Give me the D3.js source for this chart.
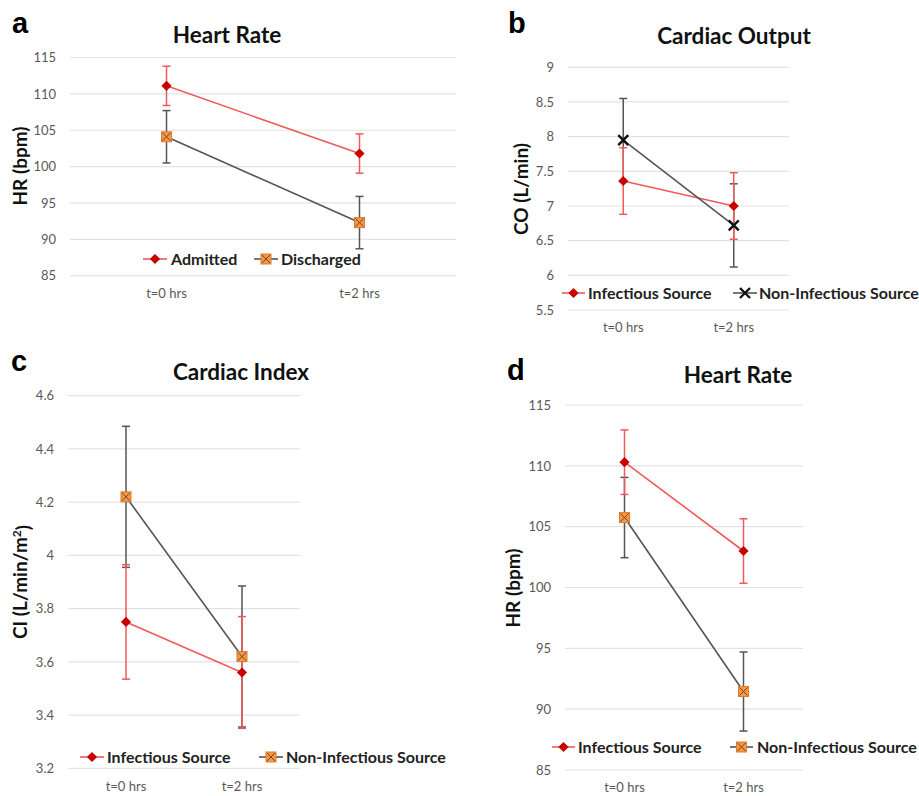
<!DOCTYPE html>
<html>
<head>
<meta charset="utf-8">
<script src="https://cdn.jsdelivr.net/npm/d3@7"></script>
<style>
  body { margin: 0; background: #fff; }
  text { font-family: Lato, "Open Sans", sans-serif; }
</style>
</head>
<body>
<script>
// shared categories
var timepoints = ["t=0 hrs", "t=2 hrs"];

// tick values
var hrTicks = [85, 90, 95, 100, 105, 110, 115];
var coTicks = [5.5, 6, 6.5, 7, 7.5, 8, 8.5, 9];
var ciTicks = [3.2, 3.4, 3.6, 3.8, 4, 4.2, 4.4, 4.6];

// a - heart rate, admitted vs discharged
var admittedMean = [111.1, 101.8],
    admittedErr = [2.7, 2.7],
    dischargedMean = [104.1, 92.3],
    dischargedErr = [3.6, 3.6];

// b - cardiac output
var coInfMean = [7.36, 7.0],
    coInfErr = [0.48, 0.48],
    coNonMean = [7.95, 6.72],
    coNonErr = [0.6, 0.6];

// c - cardiac index
var ciInfMean = [3.75, 3.56],
    ciInfErr = [0.215, 0.21],
    ciNonMean = [4.22, 3.62],
    ciNonErr = [0.265, 0.265];

// d - heart rate by source
var hrInfMean = [110.3, 103.0],
    hrInfErr = [2.65, 2.65],
    hrNonMean = [105.75, 91.45],
    hrNonErr = [3.3, 3.25];

var RED = "#f25a5a", RED_DARK = "#c80000", GRAY = "#555555";

var svg = d3.select("body").append("svg")
    .attr("width", 919)
    .attr("height", 796);

var panels = [
  {letter: "a", lx: 12, ly: 33, title: "Heart Rate", tx: 227, ty: 43,
   ylabel: "HR (bpm)", ylx: 20, yly: 166,
   left: 70, right: 456, top: 57.5, bottom: 275.7, ticks: hrTicks,
   legendY: 259,
   series: [
     {name: "Admitted", mean: admittedMean, err: admittedErr, color: RED, marker: "diamond", lx0: 143, lx1: 167, tx: 171},
     {name: "Discharged", mean: dischargedMean, err: dischargedErr, color: GRAY, marker: "square", lx0: 254, lx1: 278, tx: 281}
   ]},
  {letter: "b", lx: 508, ly: 33, title: "Cardiac Output", tx: 734, ty: 44,
   ylabel: "CO (L/min)", ylx: 521, yly: 189,
   left: 568, right: 789, top: 67.3, bottom: 310, ticks: coTicks,
   legendY: 293,
   series: [
     {name: "Infectious Source", mean: coInfMean, err: coInfErr, color: RED, marker: "diamond", lx0: 562, lx1: 585, tx: 588},
     {name: "Non-Infectious Source", mean: coNonMean, err: coNonErr, color: GRAY, marker: "cross", lx0: 733, lx1: 757, tx: 759}
   ]},
  {letter: "c", lx: 11, ly: 371, title: "Cardiac Index", tx: 241, ty: 380,
   ylabel: "CI (L/min/m", sup: "2", ylx: 20, yly: 582,
   left: 68, right: 300, top: 395.7, bottom: 768.3, ticks: ciTicks,
   legendY: 757,
   series: [
     {name: "Infectious Source", mean: ciInfMean, err: ciInfErr, color: RED, marker: "diamond", lx0: 80, lx1: 104, tx: 107},
     {name: "Non-Infectious Source", mean: ciNonMean, err: ciNonErr, color: GRAY, marker: "square", lx0: 259, lx1: 283, tx: 286}
   ]},
  {letter: "d", lx: 507, ly: 380, title: "Heart Rate", tx: 738, ty: 383,
   ylabel: "HR (bpm)", ylx: 513, yly: 588,
   left: 565, right: 803, top: 405, bottom: 770, ticks: hrTicks,
   legendY: 747,
   series: [
     {name: "Infectious Source", mean: hrInfMean, err: hrInfErr, color: RED, marker: "diamond", lx0: 552, lx1: 575, tx: 578},
     {name: "Non-Infectious Source", mean: hrNonMean, err: hrNonErr, color: GRAY, marker: "square", lx0: 730, lx1: 753, tx: 757}
   ]}
];

function drawMarker(g, type, cx, cy) {
  if (type == "diamond") {
    g.append("path")
      .attr("d", d3.symbol(d3.symbolSquare, 52)())
      .attr("transform", "translate(" + cx + "," + cy + ") rotate(45)")
      .attr("fill", RED_DARK);
  } else if (type == "square") {
    g.append("rect")
      .attr("x", cx - 5).attr("y", cy - 5)
      .attr("width", 10).attr("height", 10)
      .attr("fill", "#f79646")
      .attr("stroke", "#e07b2a")
      .attr("stroke-width", 1);
    g.append("path")
      .attr("d", "M" + (cx - 4) + "," + (cy - 4) + "L" + (cx + 4) + "," + (cy + 4) +
                 "M" + (cx - 4) + "," + (cy + 4) + "L" + (cx + 4) + "," + (cy - 4))
      .attr("stroke", "#6b4a2a")
      .attr("stroke-width", 1);
  } else {
    g.append("path")
      .attr("d", "M" + (cx - 5) + "," + (cy - 5) + "L" + (cx + 5) + "," + (cy + 5) +
                 "M" + (cx - 5) + "," + (cy + 5) + "L" + (cx + 5) + "," + (cy - 5))
      .attr("stroke", "#111")
      .attr("stroke-width", 2.4);
  }
}

panels.forEach(function(p) {
  var g = svg.append("g");
  var ticks = p.ticks;

  var x = d3.scaleBand().domain(timepoints).range([p.left, p.right]),
      y = d3.scaleLinear().domain([ticks[0], ticks[ticks.length - 1]]).range([p.bottom, p.top]);
  var cx = function(i) { return x(timepoints[i]) + x.bandwidth() / 2; };

  // gridlines
  g.selectAll(".grid")
    .data(ticks)
    .enter().append("line")
    .attr("x1", p.left).attr("x2", p.right)
    .attr("y1", function(d) { return y(d); })
    .attr("y2", function(d) { return y(d); })
    .attr("stroke", "#e3e3e3")
    .attr("stroke-width", 1.2);

  var yAxis = g.append("g")
    .attr("transform", "translate(" + p.left + ",0)")
    .call(d3.axisLeft(y).tickValues(ticks).tickSize(0).tickPadding(14)
      .tickFormat(function(d) { return String(+d.toFixed(2)); }));
  var xAxis = g.append("g")
    .attr("transform", "translate(0," + p.bottom + ")")
    .call(d3.axisBottom(x).tickSize(0).tickPadding(13));
  [yAxis, xAxis].forEach(function(ax) {
    ax.select(".domain").remove();
    ax.selectAll("text")
      .attr("fill", "#595959")
      .style("font-size", "13px")
      .style("font-family", "Lato, sans-serif");
  });

  // lines
  p.series.forEach(function(s) {
    g.append("path")
      .datum(s.mean)
      .attr("fill", "none")
      .attr("stroke", s.color)
      .attr("stroke-width", 1.6)
      .attr("d", d3.line()
        .x(function(d, i) { return cx(i); })
        .y(function(d) { return y(d); }));
  });

  // error bars
  p.series.slice().reverse().forEach(function(s) {
    var eb = g.selectAll(null).data(s.mean).enter().append("g")
      .attr("stroke", s.color)
      .attr("stroke-width", 1.5);
    eb.append("line")
      .attr("x1", function(d, i) { return cx(i); })
      .attr("x2", function(d, i) { return cx(i); })
      .attr("y1", function(d, i) { return y(d - s.err[i]); })
      .attr("y2", function(d, i) { return y(d + s.err[i]); });
    [-1, 1].forEach(function(sign) {
      eb.append("line")
        .attr("x1", function(d, i) { return cx(i) - 4; })
        .attr("x2", function(d, i) { return cx(i) + 4; })
        .attr("y1", function(d, i) { return y(d + sign * s.err[i]); })
        .attr("y2", function(d, i) { return y(d + sign * s.err[i]); });
    });
  });

  // markers
  p.series.forEach(function(s) {
    s.mean.forEach(function(m, i) { drawMarker(g, s.marker, cx(i), y(m)); });
  });

  // legend
  p.series.forEach(function(s) {
    g.append("line")
      .attr("x1", s.lx0).attr("x2", s.lx1)
      .attr("y1", p.legendY).attr("y2", p.legendY)
      .attr("stroke", s.color)
      .attr("stroke-width", 1.6);
    drawMarker(g, s.marker, (s.lx0 + s.lx1) / 2, p.legendY);
    g.append("text")
      .attr("x", s.tx).attr("y", p.legendY)
      .attr("dy", "0.36em")
      .attr("fill", "#222")
      .style("font-size", "16px")
      .style("font-weight", "bold")
      .text(s.name);
  });

  // title, letter, y label
  g.append("text")
    .attr("x", p.tx).attr("y", p.ty)
    .attr("text-anchor", "middle")
    .attr("fill", "#111")
    .style("font-size", "22.5px")
    .style("font-weight", "bold")
    .text(p.title);

  g.append("text")
    .attr("x", p.lx).attr("y", p.ly)
    .attr("fill", "#000")
    .style("font-family", "'Liberation Sans', Arial, sans-serif")
    .style("font-size", "29px")
    .style("font-weight", "bold")
    .text(p.letter);

  var yl = g.append("text")
    .attr("transform", "translate(" + p.ylx + "," + p.yly + ") rotate(-90)")
    .attr("text-anchor", "middle")
    .attr("dy", "0.35em")
    .attr("fill", "#111")
    .style("font-size", "19px")
    .style("font-weight", "bold")
    .text(p.ylabel);
  if (p.sup) {
    yl.append("tspan").attr("dy", "-0.45em").style("font-size", "12px").text(p.sup);
    yl.append("tspan").attr("dy", "0.45em").text(")");
  }
});
</script>
</body>
</html>
